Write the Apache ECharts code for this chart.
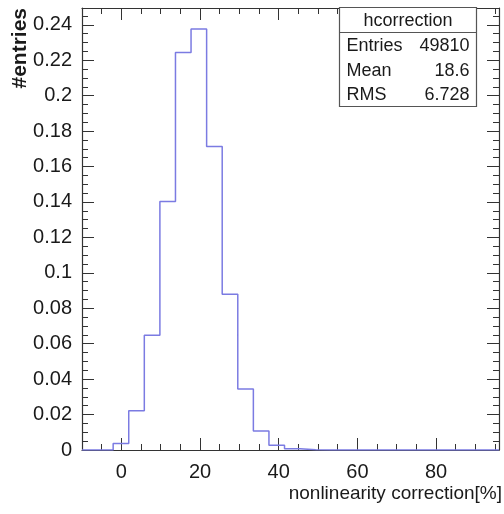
<!DOCTYPE html>
<html>
<head>
<meta charset="utf-8">
<script src="https://cdn.jsdelivr.net/npm/echarts@6/dist/echarts.min.js"></script>
<style>
  html, body { margin: 0; padding: 0; background: #fff; }
  #chart { width: 504px; height: 514px; }
</style>
</head>
<body>
<div id="chart"></div>
<script>
// Histogram of the nonlinearity correction, normalised to unit area
const xMin = -10;
const xMax = 96;
const binWidth = 3.96;
const binValues = [
  0, 0, 0.0036, 0.0222, 0.0648, 0.1403, 0.2244, 0.2376, 0.1713,
  0.0879, 0.0344, 0.0107, 0.0027, 0.0007, 0.0002, 0, 0, 0, 0, 0,
  0, 0, 0, 0, 0, 0, 0
];
const yMin = 0;
const yMax = 0.2495;

// Axis ticks
const xMajorTicks = [0, 20, 40, 60, 80];
const xMinorStep = 5;
const yMajorTicks = [0, 0.02, 0.04, 0.06, 0.08, 0.1, 0.12, 0.14, 0.16, 0.18, 0.2, 0.22, 0.24];
const yMinorStep = 0.005;

// Statistics box
const statsTitle = 'hcorrection';
const statsNames = ['Entries', 'Mean', 'RMS'];
const statsValues = ['49810', '18.6', '6.728'];

const xTitle = 'nonlinearity correction[%]';
const yTitle = '#entries';

const FONT = '"Liberation Sans", Arial, Helvetica, sans-serif';
const AXIS_COLOR = '#333';
const TEXT_COLOR = '#1a1a1a';
const LINE_COLOR = '#7b7be2';

function stepsFrom(lo, hi, step) {
  const out = [];
  const n = Math.floor((hi - lo) / step + 1e-9);
  for (let i = 0; i <= n; i++) out.push(+(lo + i * step).toFixed(6));
  return out;
}
const xMinorTicks = stepsFrom(xMin, xMax, xMinorStep);
const yMinorTicks = stepsFrom(yMin, yMax, yMinorStep);

// Outline points: left edge of every bin, then the end of the range
const outline = binValues.map((v, i) => [xMin + i * binWidth, v]);
outline.push([xMax, binValues[binValues.length - 1]]);

function xAxisDef(position, ticks, len, withLabels, withLine) {
  return {
    type: 'value', min: xMin, max: xMax, position: position,
    axisLine: { show: withLine, onZero: false, lineStyle: { color: AXIS_COLOR, width: 1.2 } },
    axisTick: { show: true, inside: true, length: len, customValues: ticks,
                lineStyle: { color: AXIS_COLOR, width: 1 } },
    axisLabel: withLabels
      ? { show: true, customValues: xMajorTicks, fontSize: 20, color: TEXT_COLOR,
          fontFamily: FONT, margin: 12 }
      : { show: false },
    splitLine: { show: false }
  };
}
function yAxisDef(position, ticks, len, withLabels, withLine) {
  return {
    type: 'value', min: yMin, max: yMax, position: position,
    axisLine: { show: withLine, onZero: false, lineStyle: { color: AXIS_COLOR, width: 1.2 } },
    axisTick: { show: true, inside: true, length: len, customValues: ticks,
                lineStyle: { color: AXIS_COLOR, width: 1 } },
    axisLabel: withLabels
      ? { show: true, customValues: yMajorTicks, fontSize: 20, color: TEXT_COLOR,
          fontFamily: FONT, margin: 10 }
      : { show: false },
    splitLine: { show: false }
  };
}

const chart = echarts.init(document.getElementById('chart'), null, { renderer: 'canvas' });

const boxL = 339.5, boxR = 476.5, boxT = 7.5, boxSep = 32.5, boxB = 106.5;
const rowY = [46.5, 71.5, 95.5];

const graphics = [
  {
    type: 'text', x: 502, y: 494,
    style: { text: xTitle, fill: TEXT_COLOR, font: '19px ' + FONT,
             textAlign: 'right', textVerticalAlign: 'middle' }
  },
  {
    type: 'text', x: 20.5, y: 8, rotation: Math.PI / 2,
    style: { text: yTitle, fill: TEXT_COLOR, font: 'bold 21px ' + FONT,
             textAlign: 'right', textVerticalAlign: 'middle' }
  },
  {
    type: 'rect', shape: { x: boxL, y: boxT, width: boxR - boxL, height: boxB - boxT },
    style: { fill: '#fff', stroke: '#555', lineWidth: 1.2 }, z: 10
  },
  {
    type: 'line', shape: { x1: boxL, y1: boxSep, x2: boxR, y2: boxSep },
    style: { stroke: '#555', lineWidth: 1.2 }, z: 11
  },
  {
    type: 'text', x: (boxL + boxR) / 2, y: (boxT + boxSep) / 2 + 1, z: 11,
    style: { text: statsTitle, fill: TEXT_COLOR, font: '18px ' + FONT,
             textAlign: 'center', textVerticalAlign: 'middle' }
  }
];
statsNames.forEach((name, i) => {
  graphics.push({
    type: 'text', x: boxL + 7, y: rowY[i], z: 11,
    style: { text: name, fill: TEXT_COLOR, font: '18px ' + FONT,
             textAlign: 'left', textVerticalAlign: 'middle' }
  });
  graphics.push({
    type: 'text', x: boxR - 7, y: rowY[i], z: 11,
    style: { text: statsValues[i], fill: TEXT_COLOR, font: '18px ' + FONT,
             textAlign: 'right', textVerticalAlign: 'middle' }
  });
});

chart.setOption({
  animation: false,
  backgroundColor: '#fff',
  grid: { left: 82, top: 8, right: 5, bottom: 64, containLabel: false },
  xAxis: [
    xAxisDef('bottom', xMajorTicks, 12, true, true),
    xAxisDef('bottom', xMinorTicks, 6, false, false),
    xAxisDef('top', xMajorTicks, 12, false, true),
    xAxisDef('top', xMinorTicks, 6, false, false)
  ],
  yAxis: [
    yAxisDef('left', yMajorTicks, 12, true, true),
    yAxisDef('left', yMinorTicks, 6, false, false),
    yAxisDef('right', yMajorTicks, 12, false, true),
    yAxisDef('right', yMinorTicks, 6, false, false)
  ],
  series: [{
    type: 'line',
    xAxisIndex: 0, yAxisIndex: 0,
    step: 'end',
    data: outline,
    symbol: 'none',
    clip: true,
    lineStyle: { color: LINE_COLOR, width: 1.5 },
    z: 3
  }],
  graphic: graphics
});
</script>
</body>
</html>
